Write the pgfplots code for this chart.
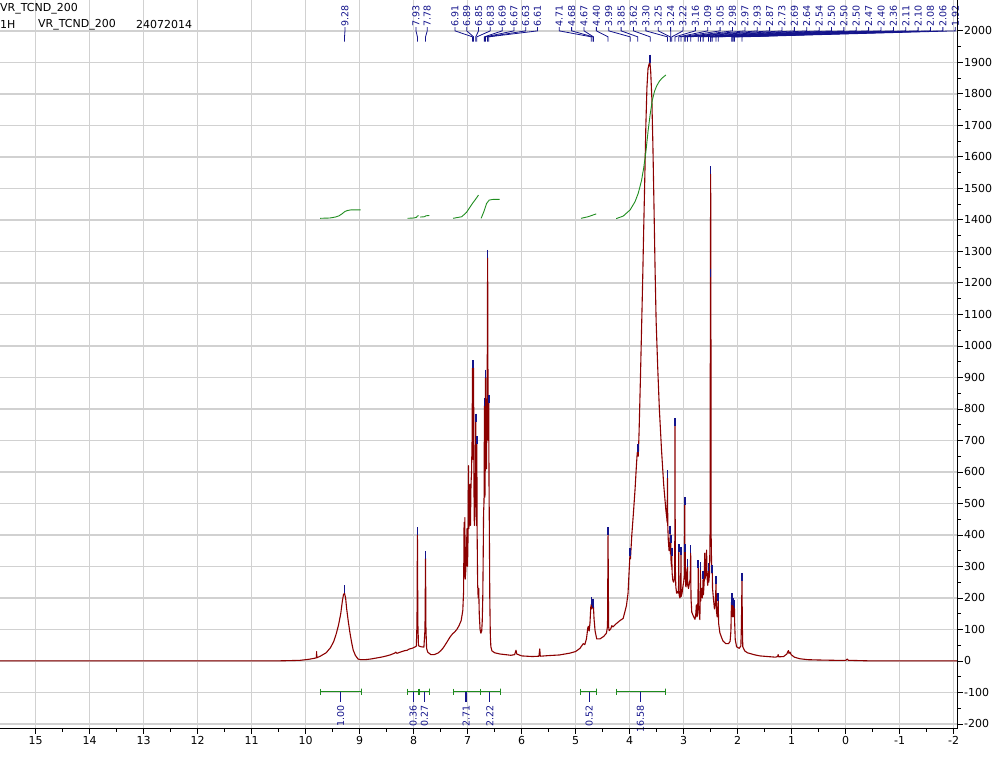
\documentclass[border=0pt]{standalone}
\usepackage{pgfplots}
\pgfplotsset{compat=1.18}
\usepackage{fontspec}
\setmainfont{DejaVu Sans}
\definecolor{specred}{RGB}{139,0,0}
\definecolor{intgreen}{RGB}{30,140,30}
\definecolor{labblue}{RGB}{20,20,140}
\tikzset{pklab/.style={rotate=90, anchor=west, inner sep=0pt, font=\fontsize{9.5}{10}\selectfont, text=labblue},
         intlab/.style={rotate=90, anchor=east, inner sep=0pt, font=\fontsize{9.5}{10}\selectfont, text=labblue}}
\begin{document}
\begin{tikzpicture}
\begin{axis}[
  scale only axis, width=958pt, height=729pt,
  x dir=reverse, xmin=-2.08, xmax=15.66, ymin=-216, ymax=2098,
  xtick={-2,-1,0,1,2,3,4,5,6,7,8,9,10,11,12,13,14,15},
  xticklabels={-2,-1,0,1,2,3,4,5,6,7,8,9,10,11,12,13,14,15},
  ytick={-200,-100,0,100,200,300,400,500,600,700,800,900,1000,1100,1200,1300,1400,1500,1600,1700,1800,1900,2000},
  yticklabels={-200,-100,0,100,200,300,400,500,600,700,800,900,1000,1100,1200,1300,1400,1500,1600,1700,1800,1900,2000},
  minor x tick num=1, minor y tick num=1,
  xtick pos=left, ytick pos=right, yticklabel pos=right,
  tick align=outside,
  major tick length=5pt, minor tick length=3pt,
  tick style={black, line width=0.8pt},
  grid=major, major grid style={line width=1.3pt, black!18},
  axis line style={black!30, line width=1pt},
  clip=false,
  ticklabel style={font=\fontsize{11}{12}\selectfont, text=black},
  yticklabel style={inner sep=1pt, anchor=west},
  xticklabel style={inner sep=2pt, anchor=north},
  /pgf/number format/assume math mode=true,
]
% spectrum
\addplot[specred, line width=1.1pt, line join=round] coordinates {
(15.66,0) (12.0,0) (10.6,0) (10.3,1) (10.1,2) (9.95,5) (9.85,8) (9.80,10) (9.797,30) (9.793,10)
(9.72,16) (9.62,26) (9.54,42) (9.48,62) (9.43,88) (9.39,115) (9.35,150) (9.32,190) (9.30,210) (9.28,215)
(9.26,200) (9.24,165) (9.21,125) (9.18,90) (9.15,60) (9.12,35) (9.08,18) (9.03,6) (8.98,4) (8.90,4)
(8.80,6) (8.70,9) (8.60,12) (8.50,16) (8.42,20) (8.35,25) (8.33,28) (8.31,24) (8.25,28) (8.18,32)
(8.12,34) (8.08,38) (8.03,40) (7.98,44) (7.95,47) (7.938,120) (7.93,400) (7.922,120) (7.91,48) (7.86,45)
(7.81,44) (7.79,100) (7.78,325) (7.772,100) (7.76,40) (7.74,28) (7.68,20) (7.62,20) (7.55,25) (7.50,32)
(7.45,42) (7.39,58) (7.33,75) (7.28,86) (7.24,92) (7.20,100) (7.16,112) (7.12,128) (7.09,160) (7.075,220)
(7.066,440) (7.06,300) (7.052,455) (7.045,260) (7.035,285) (7.025,330) (7.012,420) (7.003,300) (6.995,360) (6.985,620)
(6.977,420) (6.968,470) (6.958,560) (6.948,430) (6.938,560) (6.928,600) (6.918,700) (6.91,930) (6.903,640) (6.897,720)
(6.89,930) (6.884,560) (6.876,430) (6.868,500) (6.858,600) (6.85,760) (6.844,520) (6.838,430) (6.83,690) (6.824,400)
(6.815,245) (6.805,200) (6.795,230) (6.785,150) (6.77,100) (6.755,88) (6.74,95) (6.73,125) (6.72,200) (6.712,330)
(6.705,470) (6.698,500) (6.694,540) (6.69,810) (6.686,560) (6.68,520) (6.674,620) (6.67,900) (6.665,640) (6.658,700)
(6.65,610) (6.645,760) (6.638,880) (6.63,1280) (6.624,920) (6.618,700) (6.614,780) (6.61,820) (6.604,560) (6.598,420)
(6.59,200) (6.58,80) (6.57,45) (6.55,32) (6.50,26) (6.40,22) (6.30,20) (6.20,18) (6.13,20) (6.105,34)
(6.09,22) (6.00,16) (5.90,15) (5.80,14) (5.68,15) (5.665,38) (5.655,15) (5.50,17) (5.30,19) (5.10,25)
(5.00,30) (4.92,40) (4.86,55) (4.83,52) (4.80,70) (4.775,105) (4.765,110) (4.75,95) (4.735,120) (4.72,170)
(4.71,180) (4.70,165) (4.69,178) (4.68,170) (4.67,172) (4.66,135) (4.64,95) (4.61,70) (4.55,70) (4.48,78)
(4.43,88) (4.41,110) (4.40,400) (4.39,110) (4.38,96) (4.35,102) (4.33,112) (4.31,108) (4.25,118) (4.18,128)
(4.12,135) (4.06,175) (4.03,215) (4.01,285) (3.995,335) (3.985,325) (3.96,400) (3.93,470) (3.90,545) (3.875,620)
(3.86,660) (3.85,665) (3.84,650) (3.825,730) (3.80,900) (3.78,1050) (3.76,1200) (3.74,1370) (3.72,1530) (3.70,1700)
(3.68,1820) (3.66,1880) (3.64,1895) (3.625,1900) (3.61,1870) (3.59,1790) (3.57,1640) (3.55,1450) (3.53,1250) (3.51,1080)
(3.48,930) (3.45,800) (3.41,670) (3.37,560) (3.33,480) (3.31,450) (3.306,440) (3.30,580) (3.294,430) (3.285,385) (3.27,350)
(3.258,350) (3.25,405) (3.246,340) (3.24,375) (3.234,320) (3.226,300) (3.22,335) (3.214,280) (3.20,255) (3.185,250)
(3.17,260) (3.165,300) (3.16,745) (3.155,300) (3.145,235) (3.13,215) (3.115,220) (3.10,215) (3.094,240) (3.09,345)
(3.085,210) (3.07,200) (3.06,205) (3.055,240) (3.05,337) (3.045,205) (3.03,215) (3.015,235) (3.00,250) (2.988,270)
(2.98,495) (2.975,290) (2.97,345) (2.964,240) (2.955,235) (2.945,265) (2.93,300) (2.924,240) (2.91,230) (2.895,245)
(2.88,260) (2.87,342) (2.864,200) (2.85,155) (2.82,142) (2.79,132) (2.775,150) (2.765,178) (2.755,140) (2.745,145)
(2.735,200) (2.73,295) (2.724,180) (2.71,150) (2.70,131) (2.694,200) (2.69,289) (2.684,190) (2.67,230) (2.655,200)
(2.645,235) (2.64,262) (2.634,210) (2.62,250) (2.61,342) (2.603,260) (2.59,280) (2.575,352) (2.568,270) (2.555,240)
(2.545,260) (2.54,285) (2.534,250) (2.52,280) (2.51,420) (2.505,1220) (2.50,1545) (2.496,1200) (2.49,380) (2.48,280)
(2.47,279) (2.465,230) (2.45,200) (2.43,165) (2.415,180) (2.40,245) (2.393,160) (2.38,140) (2.365,180) (2.36,190)
(2.353,120) (2.33,90) (2.30,75) (2.27,63) (2.22,55) (2.17,55) (2.14,62) (2.125,95) (2.115,185) (2.11,190)
(2.105,150) (2.10,178) (2.095,140) (2.085,165) (2.08,175) (2.073,140) (2.065,160) (2.06,170) (2.055,120) (2.045,68)
(2.02,45) (1.97,40) (1.94,48) (1.93,120) (1.92,255) (1.913,110) (1.905,45) (1.87,32) (1.82,26) (1.70,20)
(1.59,16) (1.45,14) (1.30,12) (1.26,14) (1.25,20) (1.24,13) (1.15,14) (1.09,22) (1.07,30) (1.06,33)
(1.05,24) (1.03,28) (1.01,20) (0.95,12) (0.85,7) (0.70,4) (0.50,3) (0.20,2) (0.00,2) (-0.03,6)
(-0.05,2) (-0.50,0) (-2.08,0)
};
% peak markers
\addplot[only marks, mark=|, mark size=4pt, labblue, mark options={line width=1.6pt}] coordinates {
(9.28,228) (7.93,412) (7.78,337) (6.91,942) (6.89,942) (6.85,772) (6.83,702) (6.69,822) (6.67,912) (6.63,1292) (6.61,832)
(4.71,190) (4.68,185) (4.67,182) (4.40,412) (3.99,347) (3.85,677) (3.62,1912) (3.30,592) (3.25,417) (3.24,387) (3.22,347)
(3.16,757) (3.09,357) (3.05,349) (2.98,507) (2.97,357) (2.93,312) (2.87,354) (2.73,307) (2.69,301) (2.64,274) (2.54,297)
(2.50,1557) (2.50,1232) (2.47,291) (2.40,257) (2.36,202) (2.11,202) (2.10,190) (2.08,187) (2.06,182) (1.92,267)
};
% integral curves
\addplot[intgreen, line width=0.9pt] coordinates {(9.73,1405) (9.55,1406) (9.45,1409) (9.38,1413) (9.32,1420) (9.27,1427) (9.22,1430) (9.15,1432) (8.98,1432)};
\addplot[intgreen, line width=0.9pt] coordinates {(8.11,1405) (8.00,1406) (7.95,1408) (7.93,1412) (7.91,1414)};
\addplot[intgreen, line width=0.9pt] coordinates {(7.88,1409) (7.80,1410) (7.77,1413) (7.71,1414)};
\addplot[intgreen, line width=0.9pt] coordinates {(7.27,1405) (7.11,1410) (7.02,1424) (6.92,1450) (6.83,1471) (6.80,1479)};
\addplot[intgreen, line width=0.9pt] coordinates {(6.75,1405) (6.70,1426) (6.65,1452) (6.60,1463) (6.53,1465) (6.41,1465)};
\addplot[intgreen, line width=0.9pt] coordinates {(4.90,1405) (4.77,1410) (4.62,1419)};
\addplot[intgreen, line width=0.9pt] coordinates {(4.25,1404) (4.12,1412) (3.99,1432) (3.90,1458) (3.84,1485) (3.78,1525) (3.74,1565) (3.70,1615) (3.66,1680) (3.62,1735) (3.58,1780) (3.54,1808) (3.50,1825) (3.45,1840) (3.40,1850) (3.33,1860)};
% integral bars
\addplot[intgreen, line width=1.1pt] coordinates {(9.73,-88) (9.73,-108) (9.73,-98) (8.96,-98) (8.96,-88) (8.96,-108)};
\addplot[intgreen, line width=1.1pt] coordinates {(8.12,-88) (8.12,-108) (8.12,-98) (7.70,-98) (7.70,-88) (7.70,-108)};
\addplot[intgreen, line width=1.6pt] coordinates {(7.90,-88) (7.90,-108)};
\addplot[intgreen, line width=1.1pt] coordinates {(7.27,-88) (7.27,-108) (7.27,-98) (6.40,-98) (6.40,-88) (6.40,-108)};
\addplot[intgreen, line width=1.1pt] coordinates {(6.77,-88) (6.77,-108)};
\addplot[intgreen, line width=1.1pt] coordinates {(4.91,-88) (4.91,-108) (4.91,-98) (4.61,-98) (4.61,-88) (4.61,-108)};
\addplot[intgreen, line width=1.1pt] coordinates {(4.25,-88) (4.25,-108) (4.25,-98) (3.33,-98) (3.33,-88) (3.33,-108)};
% integral labels
\foreach \px/\iv in {9.35/1.00, 8.01/0.36, 7.80/0.27, 7.03/2.71, 6.59/2.22, 4.75/0.52, 3.80/16.58}{
  \edef\temp{\noexpand\draw[labblue, line width=1.1pt] (axis cs:\px,-98) -- (axis cs:\px,-130);
  \noexpand\node[intlab] at (axis cs:\px,-140) {\iv};}
  \temp
}
% peak labels
\foreach \lx/\pv in {9.272/9.28, 7.957/7.93, 7.748/7.78,
  7.235/6.91, 7.017/6.89, 6.798/6.85, 6.580/6.83, 6.361/6.69, 6.143/6.67, 5.924/6.63, 5.706/6.61,
  5.304/4.71, 5.075/4.68, 4.845/4.67, 4.616/4.40, 4.387/3.99, 4.158/3.85, 3.929/3.62, 3.700/3.30,
  3.470/3.25, 3.241/3.24, 3.012/3.22, 2.783/3.16, 2.554/3.09, 2.325/3.05, 2.095/2.98, 1.866/2.97,
  1.637/2.93, 1.408/2.87, 1.179/2.73, 0.950/2.69, 0.720/2.64, 0.491/2.54, 0.262/2.50, 0.033/2.50,
  -0.196/2.50, -0.425/2.47, -0.655/2.40, -0.884/2.36, -1.113/2.11, -1.342/2.10, -1.571/2.08,
  -1.800/2.06, -2.030/1.92}{
  \edef\temp{\noexpand\draw[labblue, line width=0.8pt] (axis cs:\lx,2012) -- (axis cs:\lx,2000) -- (axis cs:\pv,1981) -- (axis cs:\pv,1966);
  \noexpand\node[pklab] at (axis cs:\lx,2013) {\pv};}
  \temp
}
% black axis lines
\draw[black, line width=1pt] (axis cs:15.66,-216) -- (axis cs:-2.08,-216);
\draw[black, line width=1pt] (axis cs:-2.08,-216) -- (axis cs:-2.08,2098);
\end{axis}
\node[anchor=west, inner sep=0pt, font=\fontsize{11}{12}\selectfont] at ([shift={(0pt,-9pt)}]current axis.north west) {VR\_TCND\_200};
\node[anchor=west, inner sep=0pt, font=\fontsize{11}{12}\selectfont] at ([shift={(0pt,-25pt)}]current axis.north west) {1H};
\node[anchor=west, inner sep=0pt, font=\fontsize{11}{12}\selectfont] at ([shift={(38pt,-25pt)}]current axis.north west) {VR\_TCND\_200};
\node[anchor=west, inner sep=0pt, font=\fontsize{11}{12}\selectfont] at ([shift={(136pt,-25pt)}]current axis.north west) {24072014};
\pgfresetboundingbox
\path ([shift={(0pt,-28pt)}]current axis.south west) rectangle ([shift={(36pt,0pt)}]current axis.north east);
\end{tikzpicture}
\end{document}
